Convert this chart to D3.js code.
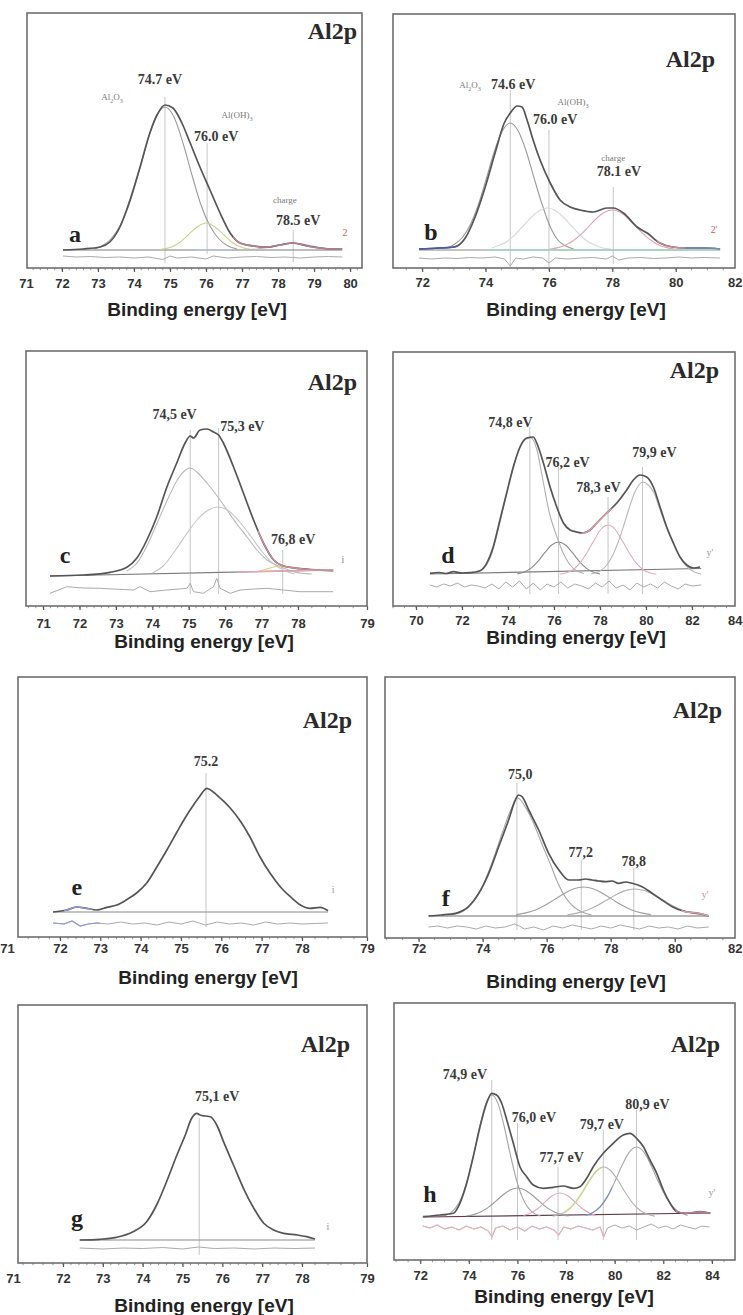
<!DOCTYPE html>
<html>
<head>
<meta charset="utf-8">
<title>Al2p XPS spectra</title>
<script src="https://cdn.jsdelivr.net/npm/d3@7"></script>
<style>
  html, body { margin:0; padding:0; background:#ffffff; }
  svg { display:block; }
</style>
</head>
<body>
<svg id="fig" width="743" height="1315" viewBox="0 0 743 1315"></svg>
<script>
// ===== DATA: binding energy [eV], intensity [a.u. above background] =====
const coreLevel = "Al2p";
const axisTitle = "Binding energy [eV]";

// ---------- panel a ----------
const aTicks = [71,72,73,74,75,76,77,78,79,80];
const aEnvelope = [[72.03,0],[72.58,1],[73.06,3],[73.33,8],[73.61,23],[73.89,50],[74.17,83],[74.44,117],[74.64,135],[74.86,145],[75.08,142],[75.33,127],[75.56,107],[75.83,83],[76.11,60],[76.39,37],[76.67,17],[76.94,7],[77.31,4],[77.69,3],[78.06,5],[78.42,7],[78.81,4],[79.17,2],[79.53,1],[79.78,1]];
const aAl2O3 = [[72.9,1],[73.11,4],[73.36,11],[73.61,24],[73.86,45],[74.11,75],[74.36,107],[74.61,133],[74.86,143],[75.11,133],[75.36,107],[75.61,75],[75.86,45],[76.11,24],[76.36,11],[76.61,4],[76.86,1]];
const aAlOH3 = [[74.75,0.6],[75.0,2.5],[75.25,7],[75.5,15],[75.75,23],[76.0,27],[76.25,23],[76.5,15],[76.75,7],[77.0,2.5],[77.25,0.6]];
const aCharge = [[77.17,0.3],[77.42,1],[77.67,2.2],[77.92,4.3],[78.17,6],[78.42,7],[78.67,6],[78.92,4.3],[79.17,2.2],[79.42,1],[79.67,0.3]];
const aBackground = [[72.03,0],[79.78,0]];
const aResidual = [[72.03,-6],[72.4,-7],[72.8,-6.5],[73.2,-7.5],[73.6,-7],[74.0,-8],[74.4,-7],[74.8,-9.5],[75.0,-6],[75.2,-8],[75.6,-7],[76.0,-9],[76.2,-6],[76.6,-8],[77.0,-7],[77.4,-6.5],[77.8,-7.5],[78.2,-7],[78.6,-8],[79.0,-7],[79.4,-6.5],[79.78,-7]];
const aPeakLines = [[74.86,153,-13],[76.03,107,-4],[78.42,20,-12]];
const aLabels = [["74.7 eV",74.72,166,"value"],["Al_2O_3",73.39,150,"species"],["Al(OH)_3",76.86,132,"species"],["76.0 eV",76.28,109,"value"],["charge",78.19,47,"species"],["78.5 eV",78.56,25,"value"],["a",72.36,8,"letter"],["2",79.86,14,"mark"]];

// ---------- panel b ----------
const bTicks = [72,74,76,78,80,82];
const bEnvelope = [[71.9,1],[72.54,2],[73.01,3],[73.36,12],[73.67,33],[73.99,63],[74.3,97],[74.59,127],[74.78,137],[75.0,144],[75.15,143],[75.31,130],[75.5,110],[75.72,90],[76.04,67],[76.35,50],[76.67,43],[76.98,40],[77.4,38],[77.83,42],[78.03,42],[78.35,37],[78.78,23],[79.1,17],[79.5,7],[79.9,3],[80.3,2],[80.9,2],[81.4,1]];
const bAl2O3 = [[72.78,2],[73.03,6],[73.28,13],[73.53,26],[73.78,46],[74.03,72],[74.28,99],[74.53,119],[74.78,127],[75.03,119],[75.28,99],[75.53,72],[75.78,46],[76.03,24],[76.28,10],[76.53,4],[76.78,1]];
const bAlOH3 = [[74.2,2],[74.45,5],[74.7,9],[74.95,16],[75.2,24.5],[75.45,33],[75.7,39.5],[75.95,42],[76.2,39.5],[76.45,33],[76.7,24.5],[76.95,16],[77.2,9],[77.45,5],[77.7,2],[77.95,1]];
const bCharge = [[76.0,0.8],[76.25,2.1],[76.5,4.6],[76.75,9],[77.0,15.3],[77.25,23.3],[77.5,31.5],[77.75,37.7],[78.0,40],[78.25,37.7],[78.5,31.5],[78.75,23.3],[79.0,15.3],[79.25,9],[79.5,4.6],[79.75,2.1],[80.0,0.8]];
const bBackground = [[71.9,0],[81.4,0]];
const bResidual = [[71.9,-8],[72.3,-9],[72.7,-8],[73.1,-8.5],[73.5,-7.5],[73.9,-8],[74.3,-7],[74.6,-9],[74.78,-16],[74.95,-8],[75.2,-9],[75.5,-7],[75.8,-8],[76.0,-13],[76.2,-8],[76.6,-9],[77.0,-8],[77.4,-7.5],[77.8,-9],[78.0,-6],[78.2,-10],[78.5,-8],[78.9,-7.5],[79.3,-8.5],[79.7,-8],[80.1,-7],[80.5,-8],[80.9,-7.5],[81.4,-8]];
const bPeakLines = [[74.78,160,-17],[76.0,120,-17],[78.03,63,-14]];
const bLabels = [["Al_2O_3",73.51,162,"species"],["74.6 eV",74.87,161,"value"],["Al(OH)_3",76.76,145,"species"],["76.0 eV",76.2,126,"value"],["charge",78.03,89,"species"],["78.1 eV",78.21,74,"value"],["b",72.28,10,"letter"],["2'",81.21,17,"mark"]];

// ---------- panel c ----------
const cTicks = [71,72,73,74,75,76,77,78,79];
const cEnvelope = [[71.19,0],[72.11,1],[72.84,3.7],[73.3,8.7],[73.57,17.7],[73.85,36],[74.12,59],[74.4,89],[74.67,113],[74.9,133],[75.04,140],[75.13,138],[75.31,146],[75.5,147],[75.68,144],[75.82,141],[75.95,133],[76.23,109],[76.5,83],[76.78,56],[77.05,33],[77.33,16],[77.6,10],[78.03,7.3],[78.27,6],[78.51,5.3]];
const cPeak1 = [[73.3,5],[73.6,14],[73.85,30],[74.12,52],[74.4,75],[74.67,95],[74.85,104],[75.04,108],[75.25,103],[75.5,93],[75.8,79],[76.05,66],[76.3,53],[76.6,39],[76.85,27],[77.15,16],[77.4,11],[77.6,8],[77.9,4],[78.2,2]];
const cPeak2 = [[74.0,3],[74.3,10],[74.6,24],[74.9,40],[75.2,55],[75.5,65],[75.8,69],[76.1,65],[76.4,54],[76.7,40],[77.0,25],[77.3,13],[77.6,6],[77.9,2]];
const cPeak3 = [[76.9,4.5],[77.15,7],[77.4,9.5],[77.6,10],[77.85,9],[78.1,7],[78.35,5.8]];
const cBackground = [[71.19,0],[78.51,6]];
const cResidual = [[71.19,-17.3],[71.65,-10.7],[72.1,-12],[72.57,-12.3],[72.9,-13],[73.48,-14],[73.66,-10.7],[73.94,-15.7],[74.4,-14],[74.95,-12.3],[75.04,-7.3],[75.13,-15.7],[75.4,-17.3],[75.68,-10.7],[75.77,-2.3],[75.86,-12.3],[76.14,-17.3],[76.41,-14],[76.8,-13],[77.15,-12.3],[77.6,-14],[78.03,-15.7],[78.51,-15.7]];
const cPeakLines = [[75.04,146,-18],[75.82,148,-18],[77.58,26,-18]];
const cLabels = [["74,5 eV",74.61,157,"value"],["75,3 eV",76.47,145,"value"],["76,8 eV",77.87,32,"value"],["c",71.6,13,"letter"],["i",78.65,13,"mark"]];

// ---------- panel d ----------
const dTicks = [70,72,74,76,78,80,82,84];
const dEnvelope = [[70.61,1.7],[71.0,2.5],[71.3,1.5],[71.62,3.3],[72.0,2],[72.35,2.3],[72.78,4.3],[73.07,11.7],[73.36,28.3],[73.65,55],[73.94,81.7],[74.23,108],[74.52,128],[74.81,137],[75.1,138],[75.25,132],[75.54,112],[75.83,88],[76.12,68],[76.41,52],[76.7,45],[76.99,43],[77.27,42],[77.57,45],[77.86,52],[78.29,62],[78.73,72],[79.16,85],[79.45,95],[79.74,100],[80.03,98],[80.32,88],[80.61,68],[80.9,48],[81.19,32],[81.48,18],[81.77,10],[82.06,7],[82.35,8]];
const dPeak1 = [[72.6,2],[73.0,8],[73.3,22],[73.6,48],[73.9,78],[74.2,105],[74.5,126],[74.8,136],[75.0,137],[75.25,126],[75.5,97],[75.8,62],[76.1,40],[76.4,22],[76.7,10],[77.0,4],[77.3,1.5]];
const dPeak2 = [[74.4,1],[74.7,2.9],[75.0,6.9],[75.3,13.7],[75.6,22.3],[75.9,30],[76.2,33],[76.5,30],[76.8,22.3],[77.1,13.7],[77.4,6.9],[77.7,2.9],[78.0,1]];
const dPeak3 = [[76.25,0.8],[76.55,2.2],[76.85,5.8],[77.15,12.6],[77.45,23],[77.75,35],[78.05,46],[78.35,50],[78.65,46],[78.95,35],[79.25,23],[79.55,12.6],[79.85,5.8],[80.15,2.2],[80.45,0.8]];
const dPeak4 = [[77.6,1],[78.0,4],[78.3,10],[78.6,22],[78.9,40],[79.2,62],[79.5,82],[79.85,93],[80.1,90],[80.35,82],[80.6,66],[80.9,47],[81.2,31],[81.5,17],[81.8,8],[82.1,3],[82.4,1]];
const dBackground = [[70.6,1],[82.4,6.5]];
const dResidual = [[70.6,-10],[70.9,-12],[71.2,-9],[71.5,-11],[71.8,-8],[72.1,-12],[72.4,-10],[72.7,-11],[73.0,-13],[73.3,-9],[73.6,-14],[73.9,-7],[74.2,-12],[74.5,-6],[74.8,-14],[75.1,-8],[75.4,-15],[75.7,-9],[76.0,-12],[76.3,-7],[76.6,-13],[76.9,-9],[77.2,-11],[77.5,-14],[77.8,-8],[78.1,-12],[78.4,-6],[78.7,-13],[79.0,-10],[79.3,-15],[79.6,-8],[79.9,-12],[80.2,-9],[80.5,-13],[80.8,-7],[81.1,-11],[81.4,-14],[81.7,-9],[82.0,-11],[82.4,-10]];
const dPeakLines = [[74.95,148,-19],[76.2,108,-19],[78.35,78,-19],[79.85,108,-19]];
const dLabels = [["74,8 eV",74.11,148,"value"],["76,2 eV",76.59,108,"value"],["78,3 eV",77.93,83,"value"],["79,9 eV",80.37,118,"value"],["d",71.39,12,"letter"],["y'",82.78,19,"mark"]];

// ---------- panel e ----------
const eTicks = [71,72,73,74,75,76,77,78,79];
const eEnvelope = [[71.87,0],[72.17,2],[72.41,5],[72.66,3.7],[72.91,2],[73.16,4.7],[73.41,7],[73.66,12.5],[73.9,19],[74.15,29],[74.4,45],[74.65,62],[74.9,80],[75.1,94],[75.31,107],[75.47,116],[75.56,121],[75.64,123.7],[75.8,120],[75.97,114],[76.22,104],[76.47,91],[76.71,75],[76.96,55],[77.21,38.7],[77.46,25.3],[77.71,15.3],[77.96,7],[78.12,3.7],[78.28,4.7],[78.4,1.3]];
const eBackground = [[71.87,0],[78.4,0]];
const eResidual = [[71.87,-11],[72.1,-12],[72.3,-9],[72.5,-14],[72.7,-12],[72.9,-11],[73.2,-12],[73.5,-10],[73.8,-12],[74.1,-11],[74.4,-13],[74.7,-10],[75.0,-12],[75.3,-9],[75.6,-13],[75.9,-10],[76.2,-12],[76.5,-11],[76.8,-13],[77.1,-10],[77.4,-12],[77.7,-11],[78.0,-12],[78.4,-11]];
const ePeakLines = [[75.62,139,-15]];
const eLabels = [["75.2",75.62,146,"value"],["e",72.42,17,"letter"],["i",78.48,19,"mark"]];

// ---------- panel f ----------
const fTicks = [72,74,76,78,80,82];
const fEnvelope = [[72.31,0],[72.7,1],[73.15,2.7],[73.56,9.3],[73.88,22.7],[74.19,42.7],[74.5,69.3],[74.81,96],[75.02,116],[75.12,121],[75.23,119.3],[75.44,106],[75.75,86],[76.06,62.7],[76.38,46],[76.69,36],[77.0,36],[77.21,37],[77.42,36],[77.62,35],[77.83,34.3],[78.04,35],[78.25,32.7],[78.46,34],[78.67,32.7],[78.98,29.3],[79.29,22.7],[79.6,16],[79.92,9.3],[80.33,4.3],[80.75,2.7],[81.06,0]];
const fPeak1 = [[73.0,1],[73.4,5],[73.7,14],[74.0,30],[74.3,54],[74.6,82],[74.85,104],[75.1,118],[75.35,108],[75.6,92],[75.85,72],[76.1,53],[76.35,33],[76.6,18],[76.85,9],[77.1,4],[77.4,1]];
const fPeak2 = [[75.05,1.4],[75.35,3.1],[75.65,6.1],[75.95,10.7],[76.25,16.6],[76.55,22.6],[76.85,27.3],[77.15,29],[77.45,27.3],[77.75,22.6],[78.05,16.6],[78.35,10.7],[78.65,6.1],[78.95,3.1],[79.25,1.4]];
const fPeak3 = [[76.65,1.3],[76.95,2.9],[77.25,5.7],[77.55,10],[77.85,15.4],[78.15,21],[78.45,25.4],[78.75,27],[79.05,25.4],[79.35,21],[79.65,15.4],[79.95,10],[80.25,5.7],[80.55,2.9],[80.85,1.3]];
const fBackground = [[72.31,0],[81.06,0]];
const fResidual = [[72.31,-11],[72.6,-10],[72.9,-12],[73.2,-10],[73.5,-11],[73.8,-13],[74.1,-10],[74.4,-12],[74.7,-11],[75.0,-8],[75.15,-10],[75.3,-13],[75.6,-11],[75.9,-14],[76.2,-10],[76.5,-12],[76.8,-9],[77.1,-11],[77.4,-13],[77.7,-10],[78.0,-12],[78.3,-9],[78.6,-11],[78.9,-13],[79.2,-10],[79.5,-12],[79.8,-11],[80.1,-13],[80.4,-10],[80.7,-12],[81.06,-11]];
const fPeakLines = [[75.07,133,-14],[77.08,56,-14],[78.72,48,-14]];
const fLabels = [["75,0",75.17,137,"value"],["77,2",77.06,59,"value"],["78,8",78.72,50,"value"],["f",72.85,10,"letter"],["y'",80.95,18,"mark"]];

// ---------- panel g ----------
const gTicks = [71,72,73,74,75,76,77,78,79];
const gEnvelope = [[72.42,0],[72.92,0.7],[73.34,2.7],[73.76,8.3],[74.1,18.3],[74.35,35],[74.6,58.3],[74.86,85],[75.07,105],[75.23,121.7],[75.36,126.7],[75.44,125],[75.57,124],[75.7,123.3],[75.86,115],[76.03,98.3],[76.28,75],[76.53,51.7],[76.79,31.7],[77.04,16.7],[77.29,10],[77.54,6.7],[77.88,5],[78.07,3.3],[78.2,1]];
const gBackground = [[72.42,0],[78.2,0]];
const gResidual = [[72.42,-8],[73.0,-9],[73.5,-8],[74.0,-8.5],[74.5,-7.5],[75.0,-9],[75.4,-7],[75.8,-8.5],[76.3,-8],[76.8,-9],[77.3,-8],[77.8,-8.5],[78.2,-8]];
const gPeakLines = [[75.42,122,-15]];
const gLabels = [["75,1 eV",75.87,139,"value"],["g",72.35,14,"letter"],["i",78.4,10,"mark"]];

// ---------- panel h ----------
const hTicks = [72,74,76,78,80,82,84];
const hEnvelope = [[72.12,0.3],[72.81,2],[73.36,3.7],[73.63,13.7],[73.91,33.7],[74.18,60.3],[74.46,90.3],[74.73,113.7],[74.94,123.7],[75.14,122],[75.35,113.7],[75.56,97],[75.83,73.7],[76.1,50.3],[76.38,40.3],[76.65,32],[77.06,28.7],[77.47,29.7],[77.88,31],[78.3,28.7],[78.57,30.3],[78.85,38.7],[79.12,50.3],[79.53,63.7],[79.94,73.7],[80.35,82],[80.63,83.7],[80.9,78.7],[81.18,70.3],[81.45,57],[81.73,43.7],[82.0,27],[82.28,13.7],[82.55,5.3],[82.96,3.7],[83.51,5.3],[83.92,3.7]];
const hPeak1 = [[72.95,1.1],[73.2,3.4],[73.45,8.8],[73.7,19.6],[73.95,38],[74.2,63],[74.45,91],[74.7,113.4],[74.95,122],[75.2,113.4],[75.45,91],[75.7,63],[75.95,38],[76.2,19.6],[76.45,8.8],[76.7,3.4],[76.95,1.1]];
const hPeak2 = [[73.9,1],[74.2,2.4],[74.5,5.2],[74.8,9.6],[75.1,15.6],[75.4,22],[75.7,27],[76.0,29],[76.3,27],[76.6,22],[76.9,15.6],[77.2,9.6],[77.5,5.2],[77.8,2.4],[78.1,1]];
const hPeak3 = [[76.25,1.5],[76.55,4.1],[76.85,8.8],[77.15,15.4],[77.45,21.5],[77.75,24],[78.05,21.5],[78.35,15.4],[78.65,8.8],[78.95,4.1],[79.25,1.5]];
const hPeak4 = [[77.45,0.9],[77.75,2.7],[78.05,6.5],[78.35,13.6],[78.65,24],[78.95,36],[79.25,46],[79.55,50],[79.85,46],[80.15,36],[80.45,24],[80.75,13.6],[81.05,6.5],[81.35,2.7],[81.65,0.9]];
const hPeak5 = [[78.8,1.6],[79.1,4.4],[79.4,10.2],[79.7,20.4],[80.0,35],[80.3,51.4],[80.6,64.8],[80.9,70],[81.2,64.8],[81.5,51.4],[81.8,35],[82.1,20.4],[82.4,10.2],[82.7,4.4],[83.0,1.6]];
const hBackground = [[72.1,0],[83.95,4]];
const hResidual = [[72.1,-9],[72.4,-11],[72.7,-8],[73.0,-12],[73.3,-10],[73.6,-13],[73.9,-9],[74.2,-12],[74.5,-10],[74.8,-14],[74.95,-20],[75.1,-11],[75.4,-9],[75.7,-13],[76.0,-10],[76.3,-14],[76.6,-9],[76.9,-12],[77.2,-10],[77.5,-13],[77.7,-18],[77.9,-10],[78.2,-12],[78.5,-9],[78.8,-11],[79.1,-13],[79.4,-10],[79.55,-20],[79.7,-11],[80.0,-8],[80.3,-11],[80.6,-9],[80.9,-13],[81.2,-10],[81.5,-7],[81.8,-11],[82.1,-9],[82.4,-12],[82.7,-8],[83.0,-10],[83.3,-12],[83.6,-9],[83.9,-10]];
const hPeakLines = [[74.94,137,-23],[76.0,94,-23],[77.67,50,-23],[79.53,87,-23],[80.9,107,-23]];
const hLabels = [["74,9 eV",73.84,138,"value"],["76,0 eV",76.68,95,"value"],["77,7 eV",77.82,55,"value"],["79,7 eV",79.47,88,"value"],["80,9 eV",81.35,108,"value"],["h",72.4,15,"letter"],["y'",84.0,21,"mark"]];

// ===== assembling the panels from the arrays above =====
const panels = [
  {id:"a", ticks:aTicks, envelope:aEnvelope, components:[aAl2O3,aAlOH3,aCharge], background:aBackground, residual:aResidual, peakLines:aPeakLines, labels:aLabels},
  {id:"b", ticks:bTicks, envelope:bEnvelope, components:[bAl2O3,bAlOH3,bCharge], background:bBackground, residual:bResidual, peakLines:bPeakLines, labels:bLabels},
  {id:"c", ticks:cTicks, envelope:cEnvelope, components:[cPeak1,cPeak2,cPeak3], background:cBackground, residual:cResidual, peakLines:cPeakLines, labels:cLabels},
  {id:"d", ticks:dTicks, envelope:dEnvelope, components:[dPeak1,dPeak2,dPeak3,dPeak4], background:dBackground, residual:dResidual, peakLines:dPeakLines, labels:dLabels},
  {id:"e", ticks:eTicks, envelope:eEnvelope, components:[], background:eBackground, residual:eResidual, peakLines:ePeakLines, labels:eLabels},
  {id:"f", ticks:fTicks, envelope:fEnvelope, components:[fPeak1,fPeak2,fPeak3], background:fBackground, residual:fResidual, peakLines:fPeakLines, labels:fLabels},
  {id:"g", ticks:gTicks, envelope:gEnvelope, components:[], background:gBackground, residual:gResidual, peakLines:gPeakLines, labels:gLabels},
  {id:"h", ticks:hTicks, envelope:hEnvelope, components:[hPeak1,hPeak2,hPeak3,hPeak4,hPeak5], background:hBackground, residual:hResidual, peakLines:hPeakLines, labels:hLabels}
];

// ===== layout and style (pixels / colours) =====
const layout = {
  a:{frame:[27,13,362,268], base:250, xd:[71.03,80.33], xr:[27,362], minor:0.2, tickY:288, title:[197,316], core:[357,39],
     comp:["#9c9c9c","#c7d38a","#b9b9b9"], bg:"#7c7c7c", markColor:"#c45a6a",
     over:[{s:"envelope",from:76.75,to:79.9,c:"#b98190",w:1.4},{s:"background",from:75.7,to:76.7,c:"#b7c3ea",w:1.6}]},
  b:{frame:[393,14,735,268], base:250, xd:[71.08,81.87], xr:[393,735], minor:0.5, tickY:287, title:[576,316], core:[715,67],
     comp:["#9a9a9a","#d8d8d8","#e2a2b2"], bg:"#8a8a8a", markColor:"#c45a6a",
     over:[{s:"envelope",from:71.8,to:73.1,c:"#4c58a8",w:1.6},{s:"background",from:74.0,to:81.5,c:"#a5dac6",w:1.6},{s:"envelope",from:79.4,to:80.3,c:"#c98a98",w:1.4},{s:"envelope",from:80.3,to:81.5,c:"#7d86b6",w:1.4}]},
  c:{frame:[26,351,367,606], base:576, xd:[70.53,78,79], xr:[26,298,367], minor:0.2, tickY:628, title:[204,648], core:[357,390],
     comp:["#b9b9b9","#c6c6c6","#e3cc78"], bg:"#7c7c7c", markColor:"#888",
     over:[{s:"background",from:76.3,to:78.6,c:"#e2a6b6",w:1.4},{s:"envelope",from:76.9,to:78.6,c:"#c78f9c",w:1.4}]},
  d:{frame:[393,352,735,606], base:575, xd:[69.0,83.87], xr:[393,735], minor:0.5, tickY:625, title:[576,644], core:[719,378],
     comp:["#b0b0b0","#8c8c8c","#e8aab8","#b8b8b8"], bg:"#7c7c7c", markColor:"#9a9a9a",
     over:[{s:"envelope",from:77.2,to:78.5,c:"#dd9aa8",w:1.5}]},
  e:{frame:[18,677,367,937], base:912, xd:[71,72,78,79], xr:[7,60,302,367], minor:0.2, tickY:953, title:[208,984], core:[352,728],
     comp:[], bg:"#8a8a8a", markColor:"#999",
     over:[{s:"residual",from:71.8,to:73.0,c:"#8d98d8",w:1.2},{s:"envelope",from:72.1,to:72.8,c:"#8d98d8",w:1.3}]},
  f:{frame:[385,677,735,938], base:916, xd:[70.95,81.88], xr:[385,735], minor:0.5, tickY:953, title:[576,988], core:[722,718],
     comp:["#a6a6a6","#a0a0a0","#b0b0b0"], bg:"#6f6f6f", markColor:"#d08a98",
     over:[{s:"envelope",from:80.2,to:81.1,c:"#dba2ae",w:1.4}]},
  g:{frame:[18,1005,367,1263], base:1240, xd:[71,72,78,79], xr:[13,63,302,367], minor:0.2, tickY:1283, title:[204,1312], core:[350,1052],
     comp:[], bg:"#8a8a8a", markColor:"#999",
     over:[]},
  h:{frame:[394,1003,735,1260], base:1217, xd:[70.92,84.95], xr:[394,735], minor:0.5, tickY:1280, title:[564,1303], core:[720,1052],
     comp:["#a4a4a4","#9c9c9c","#e6a8b4","#b4b4b4","#a8a8a8"], bg:"#5e3a4c", markColor:"#999",
     over:[{s:"residual",from:72.0,to:79.6,c:"#eab2bc",w:1.1},{s:"envelope",from:82.5,to:84.0,c:"#c27c8c",w:1.4},{s:"comp3",from:77.9,to:79.5,c:"#cbd98e",w:1.4},{s:"comp4",from:78.6,to:79.9,c:"#7f8fc8",w:1.2}]}
};

const serif = "'Liberation Serif','Times New Roman',serif";
const sans = "'Liberation Sans',Arial,Helvetica,sans-serif";
const svg = d3.select("#fig");
const svgWidth = 743;

function addRich(textSel, str, size){
  const parts = str.split(/_(\d)/);
  let shifted = 0;
  parts.forEach((p,i)=>{
    if(!p) return;
    const isSub = i % 2 === 1;
    const target = isSub ? size*0.3 : 0;
    const t = textSel.append("tspan").attr("dy", target - shifted).text(p);
    if(isSub) t.attr("font-size", size*0.68);
    shifted = target;
  });
}

panels.forEach(p=>{
  const L = layout[p.id];
  const [left, top, right, bottom] = L.frame;
  const x = d3.scaleLinear().domain(L.xd).range(L.xr);
  const y = d3.scaleLinear().domain([L.base - bottom, L.base - top]).range([bottom, top]);
  const g = svg.append("g").attr("class","panel-"+p.id);

  const clipId = "clip-"+p.id;
  svg.append("clipPath").attr("id",clipId).append("rect")
    .attr("x",left).attr("y",top).attr("width",right-left).attr("height",bottom-top);
  const plot = g.append("g").attr("clip-path",`url(#${clipId})`);

  const smooth = d3.line().x(d=>x(d[0])).y(d=>y(d[1])).curve(d3.curveMonotoneX);
  const straight = d3.line().x(d=>x(d[0])).y(d=>y(d[1]));

  // peak position drop lines
  plot.selectAll("line.peak").data(p.peakLines).join("line")
    .attr("x1",d=>x(d[0])).attr("x2",d=>x(d[0]))
    .attr("y1",d=>y(d[1])).attr("y2",d=>y(d[2]))
    .attr("stroke","#c6c6c6").attr("stroke-width",1);

  // residual
  plot.append("path").datum(p.residual).attr("d",straight)
    .attr("fill","none").attr("stroke","#ababab").attr("stroke-width",1);

  // background
  plot.append("path").datum(p.background).attr("d",straight)
    .attr("fill","none").attr("stroke",L.bg).attr("stroke-width",1.2);

  // components
  p.components.forEach((c,i)=>{
    plot.append("path").datum(c).attr("d",smooth)
      .attr("fill","none").attr("stroke",L.comp[i]||"#aaa").attr("stroke-width",1.1);
  });

  // envelope / measured spectrum
  plot.append("path").datum(p.envelope).attr("d",smooth)
    .attr("fill","none").attr("stroke","#555555").attr("stroke-width",1.7)
    .attr("stroke-linejoin","round");

  // coloured overlays (segments of series)
  L.over.forEach((o,k)=>{
    const oid = `clip-${p.id}-o${k}`;
    svg.append("clipPath").attr("id",oid).append("rect")
      .attr("x",x(o.from)).attr("y",top).attr("width",Math.max(0,x(o.to)-x(o.from))).attr("height",bottom-top);
    let data, gen = smooth;
    if(o.s==="envelope") data = p.envelope;
    else if(o.s==="background"){ data = p.background; gen = straight; }
    else if(o.s==="residual"){ data = p.residual; gen = straight; }
    else if(o.s.startsWith("comp")) data = p.components[+o.s.slice(4)];
    plot.append("g").attr("clip-path",`url(#${oid})`).append("path").datum(data).attr("d",gen)
      .attr("fill","none").attr("stroke",o.c).attr("stroke-width",o.w);
  });

  // labels
  p.labels.forEach(([txt, ev, inten, kind])=>{
    const t = g.append("text").attr("x",x(ev)).attr("y",y(inten)).attr("text-anchor","middle");
    if(kind==="value"){
      t.attr("font-family",serif).attr("font-weight","bold").attr("font-size",14).attr("fill","#3a3a3a").text(txt);
    } else if(kind==="species"){
      t.attr("font-family",serif).attr("font-size",9).attr("fill","#7a7a7a");
      addRich(t, txt, 9);
    } else if(kind==="letter"){
      t.attr("font-family",serif).attr("font-weight","bold").attr("font-size",24).attr("fill","#222").text(txt);
    } else {
      t.attr("font-family",serif).attr("font-size",10).attr("fill",L.markColor).text(txt);
    }
  });

  // core level title
  g.append("text").attr("x",L.core[0]).attr("y",L.core[1]).attr("text-anchor","end")
    .attr("font-family",serif).attr("font-weight","bold").attr("font-size",24).attr("fill","#2a2a2a")
    .text(coreLevel);

  // minor ticks
  const d0 = x.invert(left), d1 = x.invert(right);
  const minorVals = d3.range(Math.ceil(d0/L.minor)*L.minor, d1, L.minor);
  g.append("g").selectAll("line").data(minorVals).join("line")
    .attr("x1",d=>x(d)).attr("x2",d=>x(d)).attr("y1",bottom).attr("y2",bottom+2.2)
    .attr("stroke","#777").attr("stroke-width",0.8);

  // x axis
  const axis = d3.axisBottom(x).tickValues(p.ticks).tickSize(4).tickSizeOuter(0).tickFormat(d3.format("d"));
  const ga = g.append("g").attr("transform",`translate(0,${bottom})`).call(axis);
  ga.select(".domain").remove();
  ga.attr("font-family",sans).attr("font-size",13).attr("font-weight","bold");
  ga.selectAll(".tick line").attr("stroke","#555").attr("stroke-width",1.2)
    .attr("opacity",d=> (x(d)>=left-0.5 && x(d)<=right+0.5) ? 1 : 0);
  ga.selectAll(".tick text").attr("y",L.tickY-bottom).attr("dy",0).attr("fill","#333")
    .each(function(d){
      // keep labels at the right page edge fully visible
      const w = this.getComputedTextLength();
      const cx = x(d);
      if(cx + w/2 > svgWidth - 1){
        d3.select(this).attr("text-anchor","end").attr("x", (svgWidth - 1) - cx);
      }
    });

  // frame
  g.append("rect").attr("x",left).attr("y",top).attr("width",right-left).attr("height",bottom-top)
    .attr("fill","none").attr("stroke","#6e6e6e").attr("stroke-width",1.6);

  // axis title
  g.append("text").attr("x",L.title[0]).attr("y",L.title[1]).attr("text-anchor","middle")
    .attr("font-family",sans).attr("font-weight","bold").attr("font-size",19).attr("fill","#222")
    .text(axisTitle);
});
</script>
</body>
</html>
